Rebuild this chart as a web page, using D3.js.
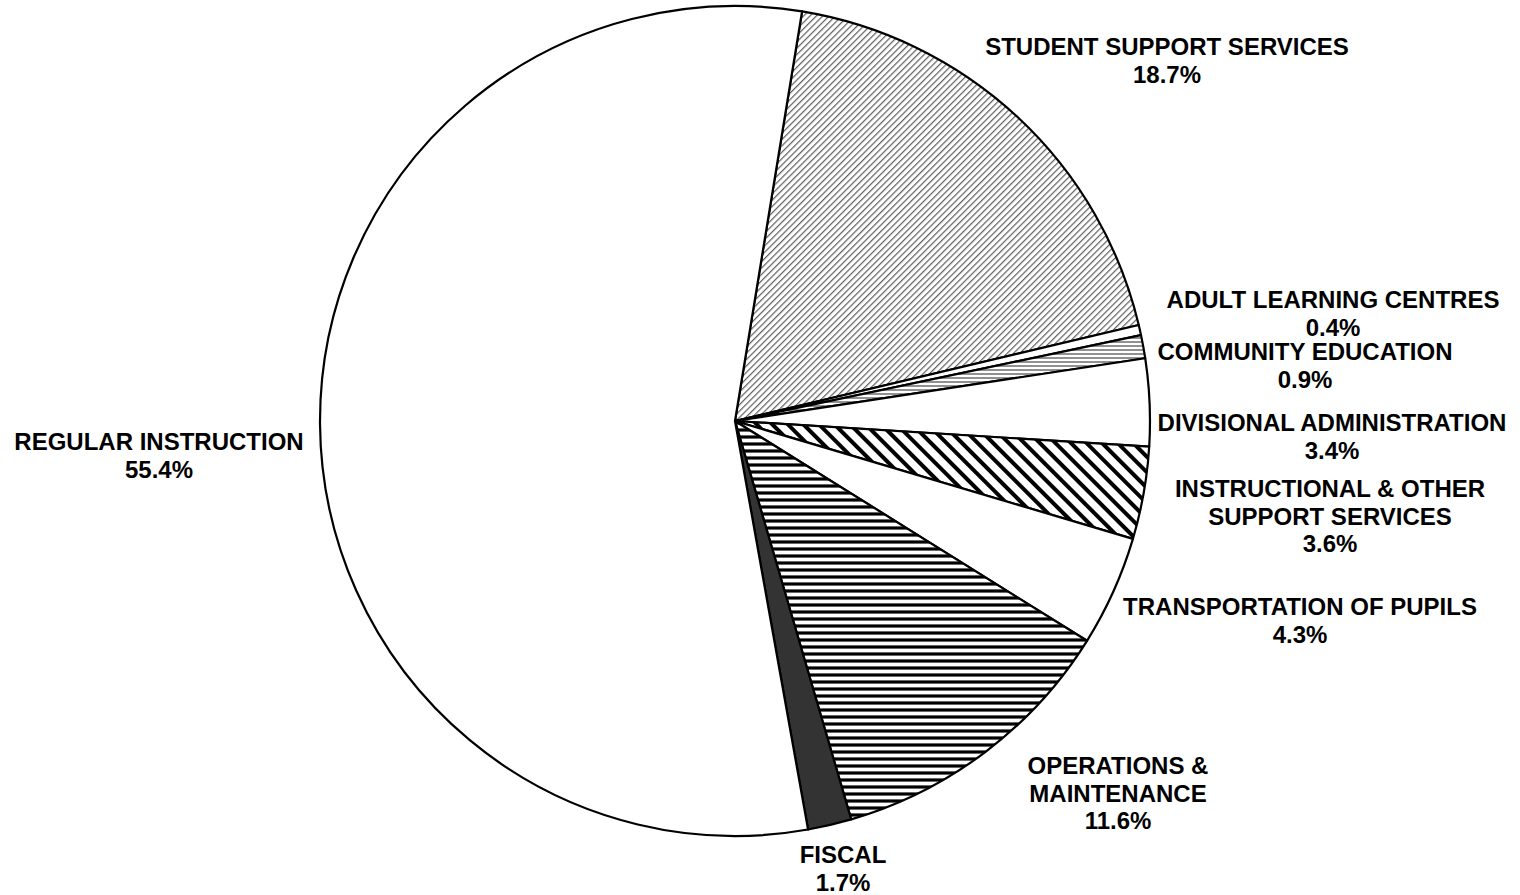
<!DOCTYPE html>
<html>
<head>
<meta charset="utf-8">
<script src="https://cdn.jsdelivr.net/npm/d3@7"></script>
<style>
  html, body { margin: 0; padding: 0; background: #fff; }
  svg text { font-family: "Liberation Sans", Arial, sans-serif; font-weight: bold; font-size: 24px; fill: #000; }
</style>
</head>
<body>
<svg id="chart" width="1520" height="895"></svg>
<script>
// ---- data ----
const categories = [
  "STUDENT SUPPORT SERVICES",
  "ADULT LEARNING CENTRES",
  "COMMUNITY EDUCATION",
  "DIVISIONAL ADMINISTRATION",
  "INSTRUCTIONAL & OTHER SUPPORT SERVICES",
  "TRANSPORTATION OF PUPILS",
  "OPERATIONS & MAINTENANCE",
  "FISCAL",
  "REGULAR INSTRUCTION"
];
const values = [18.7, 0.4, 0.9, 3.4, 3.6, 4.3, 11.6, 1.7, 55.4];
const labelLines = [
  ["STUDENT SUPPORT SERVICES"],
  ["ADULT LEARNING CENTRES"],
  ["COMMUNITY EDUCATION"],
  ["DIVISIONAL ADMINISTRATION"],
  ["INSTRUCTIONAL & OTHER", "SUPPORT SERVICES"],
  ["TRANSPORTATION OF PUPILS"],
  ["OPERATIONS &", "MAINTENANCE"],
  ["FISCAL"],
  ["REGULAR INSTRUCTION"]
];

// ---- layout / style ----
const fills = ["url(#pSSS)", "#fff", "url(#pCE)", "#fff", "url(#pIOS)", "#fff", "url(#pOM)", "#333", "#fff"];
const labelAnchor = [
  [1167, 55], [1333, 308], [1305, 360], [1332, 431], [1330, 497],
  [1300, 615], [1118, 774], [843, 863], [159, 450]
];
const cx = 735, cy = 421, R = 415;
const startDeg = 9.3;
const lineH = 27.5;

const svg = d3.select("#chart");
const defs = svg.append("defs");

// fine gray "/" diagonal
const p1 = defs.append("pattern").attr("id", "pSSS").attr("patternUnits", "userSpaceOnUse")
  .attr("width", 4.5).attr("height", 4.5).attr("patternTransform", "rotate(45)");
p1.append("rect").attr("width", 4.5).attr("height", 4.5).attr("fill", "#fff");
p1.append("line").attr("x1", 0).attr("y1", 0).attr("x2", 0).attr("y2", 4.5)
  .attr("stroke", "#5e5e5e").attr("stroke-width", 2.4);

// thin horizontal lines
const p2 = defs.append("pattern").attr("id", "pCE").attr("patternUnits", "userSpaceOnUse")
  .attr("width", 8).attr("height", 4);
p2.append("rect").attr("width", 8).attr("height", 4).attr("fill", "#fff");
p2.append("line").attr("x1", 0).attr("y1", 1).attr("x2", 8).attr("y2", 1)
  .attr("stroke", "#555").attr("stroke-width", 1.3);

// wide black "\" diagonal
const p3 = defs.append("pattern").attr("id", "pIOS").attr("patternUnits", "userSpaceOnUse")
  .attr("width", 11).attr("height", 11).attr("patternTransform", "rotate(-45)");
p3.append("rect").attr("width", 11).attr("height", 11).attr("fill", "#fff");
p3.append("line").attr("x1", 0).attr("y1", 0).attr("x2", 0).attr("y2", 11)
  .attr("stroke", "#000").attr("stroke-width", 8);

// black horizontal lines
const p4 = defs.append("pattern").attr("id", "pOM").attr("patternUnits", "userSpaceOnUse")
  .attr("width", 10).attr("height", 7);
p4.append("rect").attr("width", 10).attr("height", 7).attr("fill", "#fff");
p4.append("line").attr("x1", 0).attr("y1", 2).attr("x2", 10).attr("y2", 2)
  .attr("stroke", "#000").attr("stroke-width", 3.2);

const data = categories.map((c, i) => ({ cat: c, value: values[i], i }));

const pie = d3.pie().value(d => d.value).sort(null)
  .startAngle(startDeg * Math.PI / 180)
  .endAngle(startDeg * Math.PI / 180 + 2 * Math.PI);
const arc = d3.arc().innerRadius(0).outerRadius(R);

const g = svg.append("g").attr("transform", `translate(${cx},${cy})`);
g.selectAll("path").data(pie(data)).join("path")
  .attr("d", arc)
  .attr("fill", d => fills[d.data.i])
  .attr("stroke", "#000")
  .attr("stroke-width", 2.2)
  .attr("stroke-linejoin", "round");

const fmt = d3.format(".1f");
data.forEach((d, i) => {
  const lines = labelLines[i].concat([fmt(d.value) + "%"]);
  const t = svg.append("text").attr("text-anchor", "middle")
    .attr("x", labelAnchor[i][0]).attr("y", labelAnchor[i][1]);
  lines.forEach((ln, k) => {
    t.append("tspan").attr("x", labelAnchor[i][0]).attr("dy", k === 0 ? 0 : lineH).text(ln);
  });
});
</script>
</body>
</html>
